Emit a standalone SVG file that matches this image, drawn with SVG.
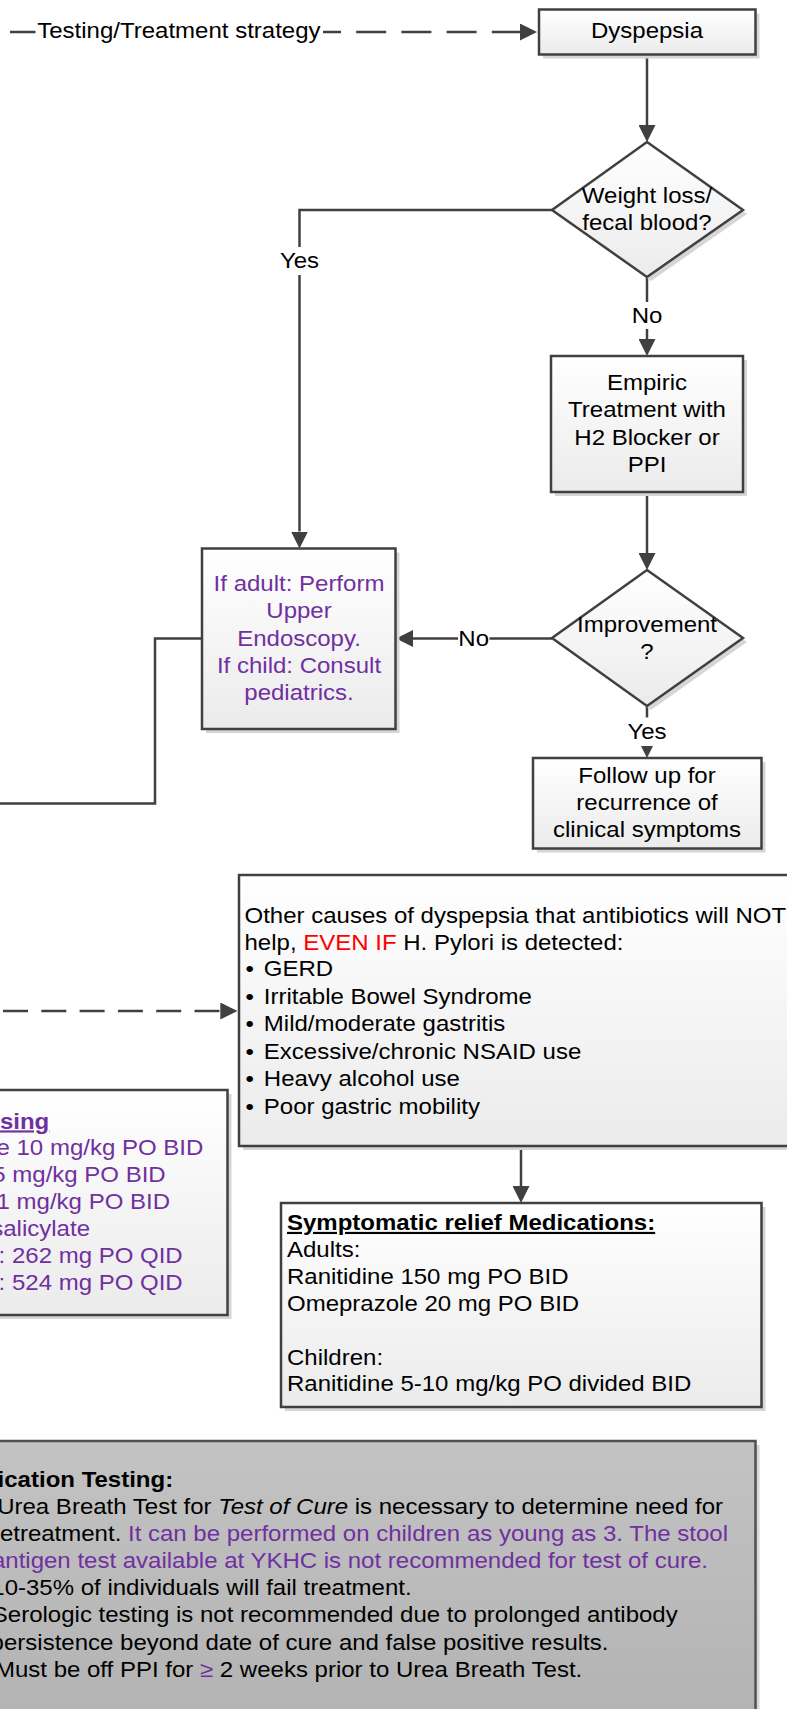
<svg xmlns="http://www.w3.org/2000/svg" width="787" height="1709" viewBox="0 0 787 1709">
  <style>
    .t { font-family: "Liberation Sans", Arial, Helvetica, sans-serif; font-size: 21.5px; fill: #000; }
    .c { text-anchor: middle; }
    .e { text-anchor: end; }
    .p { fill: #7030a0; }
    .r { fill: #ff0000; }
    .b { font-weight: bold; }
    .u { text-decoration: underline; }
    .i { font-style: italic; }
    .box { fill: url(#nodeFill); stroke: #404040; stroke-width: 2.5; }
    .shadow { fill: #d6d6d6; }
    .grey { fill: url(#greyFill); stroke: #505050; stroke-width: 2.5; }
    .line { fill: none; stroke: #404040; stroke-width: 2.5; }
    .arrow { marker-end: url(#arrowHead); }
    .lbl { fill: #ffffff; }
  </style>
  <defs>
    <linearGradient id="nodeFill" x1="0" y1="0" x2="0" y2="1">
      <stop offset="0" stop-color="#ffffff"/>
      <stop offset="1" stop-color="#ebebeb"/>
    </linearGradient>
    <linearGradient id="greyFill" x1="0" y1="0" x2="0" y2="1">
      <stop offset="0" stop-color="#c3c3c3"/>
      <stop offset="1" stop-color="#b2b2b2"/>
    </linearGradient>
    <marker id="arrowHead" viewBox="0 0 17 17" refX="0" refY="8.5" markerWidth="17" markerHeight="17" markerUnits="userSpaceOnUse" orient="auto">
      <path d="M0,0 L17,8.5 L0,17 Z" fill="#404040" stroke="none"/>
    </marker>
  </defs>

  <rect x="0" y="0" width="787" height="1709" fill="#ffffff"/>

  <!-- connectors -->
  <g id="connectors">
    <!-- testing / treatment strategy entry -->
    <path class="line" d="M10 32 H36"/>
    <path class="line arrow" d="M311 32 H520" stroke-dasharray="30 15.2"/>
    <rect class="lbl" x="35.5" y="19" width="287.5" height="26"/>
    <text class="t c" transform="translate(178.9 38.3) scale(1.117 1)">Testing/Treatment strategy</text>

    <!-- dyspepsia to first decision -->
    <path class="line arrow" d="M647 55 V125"/>

    <!-- weight loss: yes -->
    <path class="line arrow" d="M552 210 H299.5 V531.5"/>
    <rect class="lbl" x="278" y="247" width="43" height="28"/>
    <text class="t c" transform="translate(299.5 267.5) scale(1.117 1)">Yes</text>

    <!-- weight loss: no -->
    <path class="line arrow" d="M647 277 V339"/>
    <rect class="lbl" x="632" y="302" width="30" height="27"/>
    <text class="t c" transform="translate(647 323) scale(1.117 1)">No</text>

    <!-- empiric treatment to improvement -->
    <path class="line arrow" d="M647 492 V553"/>

    <!-- improvement: no -->
    <path class="line arrow" d="M552 638.5 H413"/>
    <rect class="lbl" x="458" y="625" width="31.5" height="27"/>
    <text class="t c" transform="translate(473.7 646) scale(1.117 1)">No</text>

    <!-- improvement: yes -->
    <path class="line arrow" d="M647 706 V741"/>
    <rect class="lbl" x="626" y="717.5" width="42" height="28.5"/>
    <text class="t c" transform="translate(647 739) scale(1.117 1)">Yes</text>

    <!-- endoscopy branch continues to the left -->
    <path class="line" d="M202 638.5 H155 V803.5 H-5"/>

    <!-- dashed entry into other causes -->
    <path class="line arrow" d="M3 1011 H220.3" stroke-dasharray="25 13.3"/>

    <!-- other causes to symptomatic relief -->
    <path class="line arrow" d="M521 1147 V1186"/>
  </g>

  <!-- nodes -->
  <g id="dyspepsia">
    <rect class="shadow" x="543" y="13.5" width="216.5" height="45"/>
    <rect class="box" x="539" y="9.5" width="216.5" height="45"/>
    <text class="t c" transform="translate(647 37.7) scale(1.117 1)">Dyspepsia</text>
  </g>

  <g id="weight-loss-decision">
    <polygon class="shadow" points="651,146 747,214 651,281 556,214"/>
    <polygon class="box" points="647,142 743,210 647,277 552,210"/>
    <text class="t c" transform="translate(647 203.2) scale(1.117 1)">Weight loss/</text>
    <text class="t c" transform="translate(647 230.2) scale(1.117 1)">fecal blood?</text>
  </g>

  <g id="empiric-treatment">
    <rect class="shadow" x="555" y="360" width="192" height="136"/>
    <rect class="box" x="551" y="356" width="192" height="136"/>
    <text class="t c" transform="translate(647 390) scale(1.117 1)">Empiric</text>
    <text class="t c" transform="translate(647 417.4) scale(1.117 1)">Treatment with</text>
    <text class="t c" transform="translate(647 444.6) scale(1.117 1)">H2 Blocker or</text>
    <text class="t c" transform="translate(647 472) scale(1.117 1)">PPI</text>
  </g>

  <g id="improvement-decision">
    <polygon class="shadow" points="651,574 747,642 651,710 556,642"/>
    <polygon class="box" points="647,570 743,638 647,706 552,638"/>
    <text class="t c" transform="translate(647 631.7) scale(1.117 1)">Improvement</text>
    <text class="t c" transform="translate(647 658.8) scale(1.117 1)">?</text>
  </g>

  <g id="endoscopy-referral">
    <rect class="shadow" x="206" y="552.5" width="193.5" height="180.5"/>
    <rect class="box" x="202" y="548.5" width="193.5" height="180.5"/>
    <text class="t c p" transform="translate(299 591) scale(1.117 1)">If adult: Perform</text>
    <text class="t c p" transform="translate(299 618.3) scale(1.117 1)">Upper</text>
    <text class="t c p" transform="translate(299 645.6) scale(1.117 1)">Endoscopy.</text>
    <text class="t c p" transform="translate(299 672.9) scale(1.117 1)">If child: Consult</text>
    <text class="t c p" transform="translate(299 700.2) scale(1.117 1)">pediatrics.</text>
  </g>

  <g id="follow-up">
    <rect class="shadow" x="537" y="762" width="228.5" height="90.5"/>
    <rect class="box" x="533" y="758" width="228.5" height="90.5"/>
    <text class="t c" transform="translate(647 783) scale(1.117 1)">Follow up for</text>
    <text class="t c" transform="translate(647 810.2) scale(1.117 1)">recurrence of</text>
    <text class="t c" transform="translate(647 837.4) scale(1.117 1)">clinical symptoms</text>
  </g>

  <g id="other-causes">
    <rect class="shadow" x="243" y="879" width="560" height="271"/>
    <rect class="box" x="239" y="875" width="560" height="271"/>
    <text class="t" transform="translate(244.5 922.7) scale(1.117 1)">Other causes of dyspepsia that antibiotics will NOT</text>
    <text class="t" transform="translate(244.5 949.5) scale(1.117 1)">help, <tspan class="r">EVEN IF</tspan> H. Pylori is detected:</text>
    <text class="t" transform="translate(245.5 976) scale(1.117 1)">•</text>
    <text class="t" transform="translate(263.8 976) scale(1.117 1)">GERD</text>
    <text class="t" transform="translate(245.5 1003.6) scale(1.117 1)">•</text>
    <text class="t" transform="translate(263.8 1003.6) scale(1.117 1)">Irritable Bowel Syndrome</text>
    <text class="t" transform="translate(245.5 1031.1) scale(1.117 1)">•</text>
    <text class="t" transform="translate(263.8 1031.1) scale(1.117 1)">Mild/moderate gastritis</text>
    <text class="t" transform="translate(245.5 1058.7) scale(1.117 1)">•</text>
    <text class="t" transform="translate(263.8 1058.7) scale(1.117 1)">Excessive/chronic NSAID use</text>
    <text class="t" transform="translate(245.5 1086.2) scale(1.117 1)">•</text>
    <text class="t" transform="translate(263.8 1086.2) scale(1.117 1)">Heavy alcohol use</text>
    <text class="t" transform="translate(245.5 1113.8) scale(1.117 1)">•</text>
    <text class="t" transform="translate(263.8 1113.8) scale(1.117 1)">Poor gastric mobility</text>
  </g>

  <g id="dosing">
    <rect class="shadow" x="-16" y="1094" width="247.5" height="225"/>
    <rect class="box" x="-20" y="1090" width="247.5" height="225"/>
    <text class="t e p b u" transform="translate(49.3 1128.5) scale(1.117 1)">sing</text>
    <text class="t e p" transform="translate(203.3 1155.4) scale(1.117 1)">e 10 mg/kg PO BID</text>
    <text class="t e p" transform="translate(165.7 1182.3) scale(1.117 1)">5 mg/kg PO BID</text>
    <text class="t e p" transform="translate(170 1209.3) scale(1.117 1)">1 mg/kg PO BID</text>
    <text class="t e p" transform="translate(90 1236.2) scale(1.117 1)">salicylate</text>
    <text class="t e p" transform="translate(182.7 1263.1) scale(1.117 1)">: 262 mg PO QID</text>
    <text class="t e p" transform="translate(182.7 1290) scale(1.117 1)">: 524 mg PO QID</text>
  </g>

  <g id="symptomatic-relief">
    <rect class="shadow" x="285" y="1207" width="480.5" height="204"/>
    <rect class="box" x="281" y="1203" width="480.5" height="204"/>
    <text class="t b u" transform="translate(287 1230) scale(1.117 1)">Symptomatic relief Medications:</text>
    <text class="t" transform="translate(287 1256.9) scale(1.117 1)">Adults:</text>
    <text class="t" transform="translate(287 1283.8) scale(1.117 1)">Ranitidine 150 mg PO BID</text>
    <text class="t" transform="translate(287 1310.7) scale(1.117 1)">Omeprazole 20 mg PO BID</text>
    <text class="t" transform="translate(287 1364.5) scale(1.117 1)">Children:</text>
    <text class="t" transform="translate(287 1391.4) scale(1.117 1)">Ranitidine 5-10 mg/kg PO divided BID</text>
  </g>

  <g id="eradication-testing">
    <rect class="shadow" x="-16" y="1445" width="775.5" height="290"/>
    <rect class="grey" x="-20" y="1441" width="775.5" height="290"/>
    <text class="t e b" transform="translate(173.2 1486.7) scale(1.117 1)">ication Testing:</text>
    <text class="t e" transform="translate(723 1513.8) scale(1.117 1)">Urea Breath Test for <tspan class="i">Test of Cure</tspan> is necessary to determine need for</text>
    <text class="t e" transform="translate(728 1541) scale(1.117 1)">retreatment. <tspan class="p">It can be performed on children as young as 3. The stool</tspan></text>
    <text class="t e p" transform="translate(708 1568.1) scale(1.117 1)">antigen test available at YKHC is not recommended for test of cure.</text>
    <text class="t e" transform="translate(411.6 1595.3) scale(1.117 1)">10-35% of individuals will fail treatment.</text>
    <text class="t e" transform="translate(677.7 1622.4) scale(1.117 1)">Serologic testing is not recommended due to prolonged antibody</text>
    <text class="t e" transform="translate(608.4 1649.5) scale(1.117 1)">persistence beyond date of cure and false positive results.</text>
    <text class="t e" transform="translate(582.3 1676.7) scale(1.117 1)">Must be off PPI for <tspan class="p">≥</tspan> 2 weeks prior to Urea Breath Test.</text>
  </g>
</svg>
